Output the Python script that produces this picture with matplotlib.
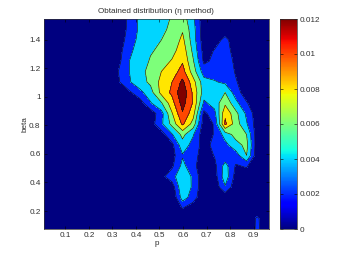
import numpy as np
import matplotlib
matplotlib.use('Agg')
import matplotlib.pyplot as plt
from matplotlib.colors import ListedColormap, BoundaryNorm, Normalize
from matplotlib.cm import ScalarMappable

plt.rcParams['font.family'] = ['Liberation Sans', 'DejaVu Sans']

p = [0.0095, 0.055, 0.100, 0.146, 0.191, 0.236, 0.281, 0.327, 0.372, 0.417, 0.462,
     0.508, 0.553, 0.598, 0.643, 0.689, 0.734, 0.779, 0.824, 0.870, 0.915, 0.964]
beta = [0.074, 0.148, 0.221, 0.295, 0.368, 0.441, 0.515, 0.589, 0.662, 0.736, 0.810,
        0.883, 0.956, 1.030, 1.103, 1.177, 1.250, 1.324, 1.398, 1.471, 1.545]

# values in units of 1e-4, bottom row first
density = [
    [0, 0, 0, 0, 0, 0, 0, 0, 0, 0, 0, 0, 0, 0, 0, 0, 0, 0, 0, 0, 25, 0],
    [0, 0, 0, 0, 0, 0, 0, 0, 0, 0, 0, 0, 0, 0, 0, 0, 0, 0, 0, 0, 24, 0],
    [0, 0, 0, 0, 0, 0, 0, 0, 0, 0, 0, 0, 0, 21, 8, 0, 0, 0, 0, 0, 0, 0],
    [0, 0, 0, 0, 0, 0, 0, 0, 0, 0, 0, 0, 0, 50, 30, 2, 0, 4, 0, 0, 0, 0],
    [0, 0, 0, 0, 0, 0, 0, 0, 0, 0, 0, 0, 8, 58, 36, 4, 6, 38, 6, 0, 0, 0],
    [0, 0, 0, 0, 0, 0, 0, 0, 0, 0, 0, 14, 32, 56, 36, 4, 10, 52, 12, 10, 2, 0],
    [0, 0, 0, 0, 0, 0, 0, 0, 0, 0, 0, 0, 16, 46, 26, 6, 14, 48, 18, 22, 4, 0],
    [0, 0, 0, 0, 0, 0, 0, 0, 0, 0, 0, 0, 12, 38, 28, 10, 21, 26, 30, 60, 6, 0],
    [0, 0, 0, 0, 0, 0, 0, 0, 0, 0, 0, 0, 14, 52, 32, 12, 26, 34, 52, 66, 8, 0],
    [0, 0, 0, 0, 0, 0, 0, 0, 0, 0, 0, 10, 38, 66, 42, 6, 22, 48, 68, 60, 8, 0],
    [0, 0, 0, 0, 0, 0, 0, 0, 0, 0, 10, 36, 66, 104, 72, 8, 22, 104, 70, 42, 8, 0],
    [0, 0, 0, 0, 0, 0, 0, 0, 0, 0, 8, 32, 78, 118, 88, 14, 34, 96, 66, 36, 8, 0],
    [0, 0, 0, 0, 0, 0, 0, 0, 0, 10, 38, 58, 92, 128, 98, 36, 48, 76, 46, 22, 4, 0],
    [0, 0, 0, 0, 0, 0, 0, 0, 16, 34, 52, 86, 104, 135, 96, 50, 48, 60, 30, 8, 0, 0],
    [0, 0, 0, 0, 0, 0, 0, 18, 38, 52, 64, 86, 100, 125, 88, 48, 42, 36, 22, 8, 0, 0],
    [0, 0, 0, 0, 0, 0, 2, 21, 40, 54, 66, 80, 90, 108, 70, 30, 30, 34, 18, 6, 0, 0],
    [0, 0, 0, 0, 0, 0, 0, 15, 40, 50, 62, 70, 82, 98, 62, 16, 24, 30, 16, 0, 0, 0],
    [0, 0, 0, 0, 0, 0, 0, 12, 36, 48, 58, 64, 72, 92, 55, 12, 21, 28, 12, 0, 0, 0],
    [0, 0, 0, 0, 0, 0, 0, 8, 30, 46, 50, 60, 66, 85, 50, 8, 12, 25, 10, 0, 0, 0],
    [0, 0, 0, 0, 0, 0, 0, 6, 26, 44, 48, 56, 64, 78, 48, 6, 0, 10, 0, 0, 0, 0],
    [0, 0, 0, 0, 0, 0, 0, 5, 25, 45, 48, 52, 62, 70, 45, 5, 0, 0, 0, 0, 0, 0],
]

levels = [0, 0.002, 0.004, 0.006, 0.008, 0.01, 0.012]
x_ticks = [0.1, 0.2, 0.3, 0.4, 0.5, 0.6, 0.7, 0.8, 0.9]
y_ticks = [0.2, 0.4, 0.6, 0.8, 1.0, 1.2, 1.4]
y_labels = ['0.2', '0.4', '0.6', '0.8', '1', '1.2', '1.4']
bar_labels = ['0', '0.002', '0.004', '0.006', '0.008', '0.01', '0.012']

W, H = 343, 258
txt = '#303030'
fs = 5.9

z = np.array(density) * 1e-4
jet = plt.get_cmap('jet')
fill_cols = [jet(v / 0.012) for v in levels]
bounds = levels + [1.0]
fill_cmap = ListedColormap(fill_cols)
fill_norm = BoundaryNorm(bounds, fill_cmap.N)

fig = plt.figure(figsize=(W / 100, H / 100), dpi=100)
ax = fig.add_axes([44 / W, 1 - 229 / H, (268.7 - 44) / W, 210 / H])
ax.contourf(p, beta, z, levels=bounds, cmap=fill_cmap, norm=fill_norm)
ax.contour(p, beta, z, levels=levels[1:], colors='#1a1a1a', linewidths=0.45)
ax.set_xlim(0.0095, 0.964)
ax.set_ylim(0.074, 1.545)
ax.set_xticks(x_ticks)
ax.set_xticklabels([str(v) for v in x_ticks])
ax.set_yticks(y_ticks)
ax.set_yticklabels(y_labels)
ax.tick_params(direction='in', top=True, right=True, length=2, width=0.4, labelsize=fs,
               labelcolor=txt, pad=2.5)
ax.set_xlabel('p', fontsize=fs, color=txt, labelpad=0.5)
ax.set_ylabel('beta', fontsize=fs, color=txt, labelpad=0.5)
ax.set_title('Obtained distribution (\u03b7 method)', fontsize=fs, color=txt, pad=4.5)
for s in ax.spines.values():
    s.set_linewidth(0.5)
    s.set_color('#333333')

cax = fig.add_axes([280 / W, 1 - 229 / H, 16.7 / W, 210 / H])
cb = fig.colorbar(ScalarMappable(norm=Normalize(0, 0.012), cmap='jet'), cax=cax)
cb.set_ticks(levels)
cb.set_ticklabels(bar_labels)
cb.ax.tick_params(direction='in', left=True, right=True, length=2, width=0.4, labelsize=fs,
                  labelcolor=txt, pad=2)
cb.outline.set_linewidth(0.5)
cb.outline.set_edgecolor('#333333')

fig.savefig('out.png', dpi=100)
